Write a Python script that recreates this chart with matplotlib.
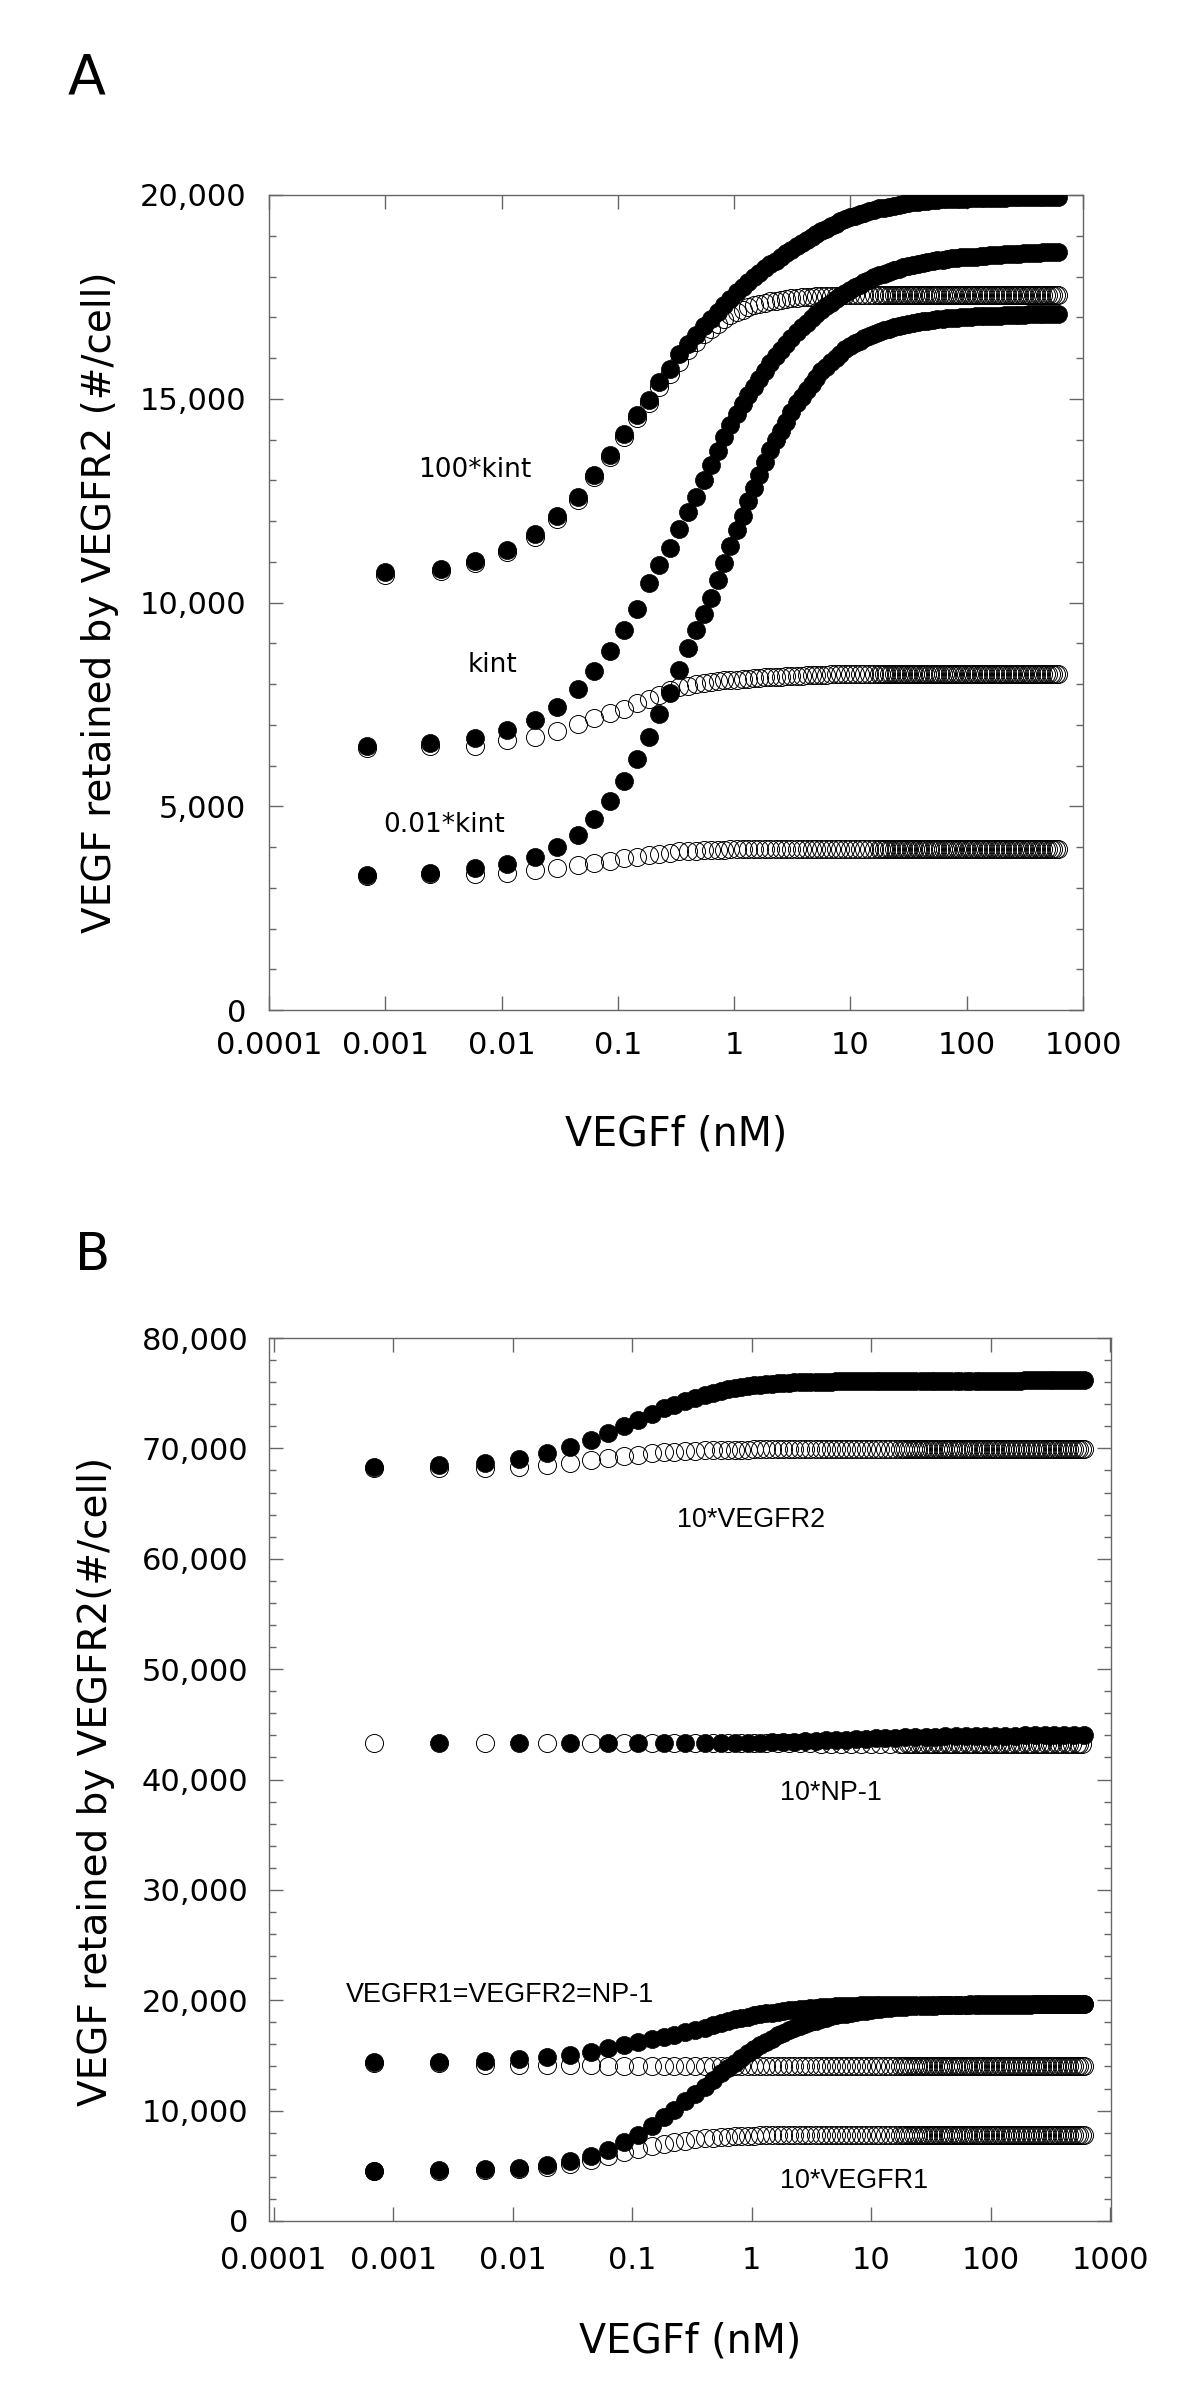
import matplotlib
matplotlib.use('Agg')
import matplotlib.pyplot as plt
from matplotlib.ticker import MultipleLocator, NullLocator, FuncFormatter

# free VEGF (nM) at which the model points sit (shared by most curves)
x_grid = [
    0.00069, 0.00244, 0.00587, 0.0112, 0.0193, 0.0301, 0.045, 0.0625, 0.085, 0.113,
    0.147, 0.186, 0.225, 0.279, 0.337, 0.404, 0.474, 0.55, 0.63, 0.72,
    0.82, 0.93, 1.05, 1.18, 1.32, 1.48, 1.65, 1.84, 2.05, 2.28,
    2.53, 2.8, 3.1, 3.45, 3.8, 4.2, 4.65, 5.1, 5.6, 6.2,
    6.8, 7.5, 8.2, 9.0, 9.9, 10.9, 12, 13.2, 14.5, 16,
    17.6, 19.4, 21.3, 23.5, 26, 28.6, 31.5, 34.5, 38, 42,
    46, 51, 56, 62, 68, 75, 82, 90, 99, 109,
    120, 132, 145, 160, 176, 194, 213, 235, 258, 284,
    312, 343, 378, 416, 457, 503, 553, 610,
]
x_kint100 = [0.00099, 0.0030] + x_grid[2:]

# extra points of the dense high-concentration end (open-circle plateaus)
x_tail = [
    18.5, 20.3, 22.4, 24.7, 27.3, 30, 33, 36.2, 40, 44,
    48.4, 53.4, 59, 65, 71.4, 78.4, 86, 94.4, 104, 114,
    126, 138, 152, 168, 185, 203, 224, 246, 271, 298,
    327, 360, 397, 436, 480, 528, 581,
]

x_ticks = [1e-4, 1e-3, 1e-2, 1e-1, 1, 10, 100, 1000]
x_tick_labels = ['0.0001', '0.001', '0.01', '0.1', '1', '10', '100', '1000']

# ---- panel A ----
kint100_filled = [
    10740, 10830, 11030, 11300, 11670, 12120, 12580, 13140, 13630, 14130,
    14590, 14980, 15400, 15740, 16100, 16350, 16570, 16780, 16960, 17140,
    17300, 17460, 17610, 17750, 17870, 17980, 18090, 18200, 18300, 18390,
    18480, 18570, 18650, 18740, 18820, 18890, 18970, 19040, 19110, 19170,
    19230, 19290, 19350, 19400, 19460, 19490, 19530, 19570, 19600, 19640,
    19670, 19690, 19710, 19740, 19760, 19780, 19800, 19820, 19830, 19850,
    19860, 19870, 19880, 19890, 19900, 19900, 19910, 19910, 19910, 19920,
    19920, 19920, 19920, 19920, 19930, 19930, 19930, 19940, 19940, 19940,
    19940, 19940, 19940, 19950, 19950, 19950, 19950, 19950,
]
kint100_open = [
    10680, 10780, 10970, 11240, 11610, 12050, 12510, 13070, 13560, 14050,
    14520, 14900, 15300, 15600, 15900, 16190, 16400, 16580, 16720, 16840,
    16950, 17050, 17130, 17190, 17240, 17290, 17330, 17360, 17390, 17410,
    17430, 17450, 17465, 17480, 17490, 17500, 17505, 17510, 17515, 17520,
    17525, 17530, 17530, 17535, 17535, 17540, 17540, 17540, 17540, 17540,
    17540, 17540, 17540, 17540, 17540, 17540, 17540, 17540, 17540, 17540,
    17540, 17540, 17540, 17540, 17540, 17540, 17540, 17540, 17540, 17540,
    17540, 17540, 17540, 17540, 17540, 17540, 17540, 17540, 17540, 17540,
    17540, 17540, 17540, 17540, 17540, 17540, 17540, 17540,
]
kint100_open_tail = [
    17540, 17540, 17540, 17540, 17540, 17540, 17540, 17540, 17540, 17540,
    17540, 17540, 17540, 17540, 17540, 17540, 17540, 17540, 17540, 17540,
    17540, 17540, 17540, 17540, 17540, 17540, 17540, 17540, 17540, 17540,
    17540, 17540, 17540, 17540, 17540, 17540, 17540,
]
kint_filled = [
    6470, 6540, 6670, 6860, 7120, 7440, 7880, 8320, 8820, 9320,
    9840, 10490, 10930, 11340, 11810, 12220, 12600, 13000, 13370, 13730,
    14070, 14360, 14630, 14880, 15080, 15290, 15490, 15690, 15880, 16040,
    16190, 16350, 16500, 16650, 16760, 16870, 16980, 17080, 17190, 17280,
    17360, 17450, 17520, 17600, 17680, 17740, 17800, 17860, 17920, 17980,
    18030, 18070, 18110, 18150, 18190, 18230, 18260, 18280, 18310, 18340,
    18360, 18380, 18400, 18410, 18430, 18450, 18460, 18470, 18480, 18490,
    18490, 18500, 18510, 18520, 18530, 18530, 18540, 18550, 18560, 18560,
    18570, 18570, 18580, 18580, 18590, 18590, 18600, 18600,
]
kint_open = [
    6440, 6480, 6490, 6630, 6710, 6850, 7010, 7160, 7280, 7390,
    7530, 7630, 7730, 7850, 7920, 7960, 8000, 8030, 8050, 8070,
    8090, 8100, 8110, 8120, 8130, 8140, 8150, 8160, 8170, 8175,
    8180, 8185, 8190, 8195, 8200, 8210, 8215, 8220, 8225, 8230,
    8235, 8240, 8240, 8245, 8245, 8250, 8250, 8250, 8250, 8250,
    8250, 8250, 8250, 8250, 8250, 8250, 8250, 8250, 8250, 8250,
    8250, 8250, 8250, 8250, 8250, 8250, 8250, 8250, 8250, 8250,
    8250, 8250, 8250, 8250, 8250, 8250, 8250, 8250, 8250, 8250,
    8250, 8250, 8250, 8250, 8250, 8250, 8250, 8250,
]
kint_open_tail = [
    8250, 8250, 8250, 8250, 8250, 8250, 8250, 8250, 8250, 8250,
    8250, 8250, 8250, 8250, 8250, 8250, 8250, 8250, 8250, 8250,
    8250, 8250, 8250, 8250, 8250, 8250, 8250, 8250, 8250, 8250,
    8250, 8250, 8250, 8250, 8250, 8250, 8250,
]
kint001_filled = [
    3310, 3370, 3480, 3580, 3750, 4010, 4300, 4690, 5140, 5620,
    6160, 6710, 7260, 7770, 8340, 8880, 9330, 9710, 10120, 10550,
    10980, 11380, 11770, 12130, 12480, 12820, 13140, 13450, 13740, 13980,
    14210, 14440, 14670, 14890, 15050, 15210, 15370, 15520, 15670, 15790,
    15900, 16000, 16100, 16210, 16300, 16360, 16420, 16480, 16540, 16600,
    16650, 16680, 16720, 16750, 16790, 16820, 16840, 16860, 16880, 16900,
    16920, 16930, 16950, 16960, 16970, 16980, 16990, 17000, 17000, 17010,
    17020, 17020, 17030, 17030, 17040, 17040, 17050, 17060, 17060, 17060,
    17060, 17070, 17070, 17070, 17070, 17080, 17080, 17080,
]
kint001_open = [
    3300, 3330, 3330, 3370, 3440, 3490, 3560, 3600, 3660, 3720,
    3760, 3800, 3830, 3860, 3890, 3900, 3910, 3920, 3925, 3930,
    3935, 3940, 3940, 3940, 3940, 3940, 3940, 3940, 3940, 3940,
    3940, 3940, 3940, 3940, 3940, 3940, 3940, 3940, 3940, 3940,
    3940, 3940, 3940, 3940, 3940, 3940, 3940, 3940, 3940, 3940,
    3940, 3945, 3945, 3945, 3945, 3945, 3945, 3945, 3945, 3945,
    3945, 3945, 3945, 3945, 3945, 3945, 3945, 3945, 3945, 3945,
    3945, 3945, 3945, 3945, 3945, 3945, 3945, 3945, 3945, 3945,
    3945, 3945, 3945, 3945, 3945, 3945, 3945, 3945,
]
kint001_open_tail = [
    3945, 3945, 3945, 3945, 3945, 3945, 3945, 3945, 3945, 3945,
    3945, 3945, 3945, 3945, 3945, 3945, 3945, 3945, 3945, 3945,
    3945, 3945, 3945, 3945, 3945, 3945, 3945, 3945, 3945, 3945,
    3945, 3945, 3945, 3945, 3945, 3945, 3945,
]

# ---- panel B ----
vr2_filled = [
    68290, 68450, 68660, 69020, 69540, 70110, 70730, 71410, 72030, 72600,
    73120, 73640, 73940, 74280, 74570, 74810, 75020, 75210, 75350, 75460,
    75560, 75650, 75730, 75780, 75820, 75870, 75910, 75940, 75960, 75980,
    76000, 76030, 76030, 76040, 76040, 76050, 76050, 76060, 76060, 76070,
    76070, 76080, 76080, 76080, 76090, 76090, 76090, 76100, 76100, 76100,
    76110, 76110, 76110, 76120, 76120, 76120, 76130, 76130, 76130, 76130,
    76140, 76140, 76140, 76140, 76140, 76140, 76140, 76140, 76140, 76140,
    76140, 76140, 76140, 76140, 76140, 76150, 76150, 76150, 76150, 76150,
    76150, 76150, 76150, 76150, 76150, 76150, 76150, 76150,
]
vr2_open = [
    68260, 68240, 68220, 68290, 68500, 68710, 68920, 69120, 69280, 69430,
    69540, 69640, 69700, 69750, 69800, 69820, 69840, 69850, 69860, 69870,
    69880, 69890, 69900, 69900, 69900, 69900, 69900, 69900, 69900, 69900,
    69900, 69900, 69900, 69900, 69900, 69900, 69900, 69900, 69900, 69900,
    69900, 69900, 69900, 69900, 69900, 69900, 69900, 69900, 69900, 69900,
    69900, 69900, 69900, 69900, 69900, 69900, 69900, 69900, 69900, 69900,
    69900, 69900, 69900, 69900, 69900, 69900, 69900, 69900, 69900, 69900,
    69900, 69900, 69900, 69900, 69900, 69900, 69900, 69900, 69900, 69900,
    69900, 69900, 69900, 69900, 69900, 69900, 69900, 69900,
]
vr2_open_tail = [
    69900, 69900, 69900, 69900, 69900, 69900, 69900, 69900, 69900, 69900,
    69900, 69900, 69900, 69900, 69900, 69900, 69900, 69900, 69900, 69900,
    69900, 69900, 69900, 69900, 69900, 69900, 69900, 69900, 69900, 69900,
    69900, 69900, 69900, 69900, 69900, 69900, 69900,
]
# NP-1 curves sit on alternating grid points (open on even, filled on odd)
np1_open = [
    43300, 43300, 43300, 43300, 43300, 43300, 43300, 43300, 43300, 43300,
    43300, 43290, 43290, 43280, 43280, 43270, 43270, 43260, 43260, 43250,
    43250, 43240, 43240, 43230, 43230, 43230, 43220, 43220, 43220, 43210,
    43210, 43210, 43210, 43200, 43200, 43200, 43200, 43200, 43200, 43200,
    43200, 43200, 43200, 43200,
]
np1_open_tail = [
    43250, 43240, 43240, 43230, 43230, 43230, 43220, 43220, 43220, 43210,
    43210, 43210, 43210, 43200, 43200, 43200, 43200, 43200, 43200, 43200,
    43200, 43200, 43200, 43200, 43200, 43200, 43200, 43200, 43200, 43200,
    43200, 43200, 43200, 43200, 43200, 43200, 43200,
]
np1_filled = [
    43300, 43300, 43300, 43300, 43300, 43300, 43300, 43300, 43300, 43310,
    43330, 43350, 43380, 43410, 43440, 43470, 43510, 43550, 43590, 43620,
    43660, 43690, 43720, 43750, 43780, 43810, 43840, 43860, 43880, 43900,
    43920, 43940, 43950, 43960, 43970, 43980, 43985, 43990, 43995, 44000,
    44000, 44000, 44000, 44000,
]
eq_filled = [
    14380, 14380, 14530, 14690, 14850, 15050, 15310, 15700, 15980, 16220,
    16460, 16680, 16880, 17100, 17330, 17530, 17740, 17940, 18110, 18260,
    18390, 18510, 18620, 18720, 18800, 18880, 18950, 19020, 19080, 19130,
    19180, 19230, 19270, 19310, 19350, 19390, 19430, 19460, 19480, 19500,
    19510, 19520, 19530, 19540, 19545, 19550, 19555, 19560, 19560, 19565,
    19570, 19570, 19575, 19580, 19580, 19585, 19590, 19590, 19595, 19600,
    19600, 19605, 19610, 19610, 19615, 19620, 19620, 19625, 19625, 19630,
    19630, 19630, 19635, 19635, 19635, 19640, 19640, 19640, 19640, 19640,
    19640, 19640, 19640, 19640, 19640, 19640, 19640, 19640,
]
eq_open = [
    14330, 14300, 14170, 14140, 14120, 14100, 14090, 14080, 14070, 14070,
    14070, 14070, 14070, 14070, 14070, 14070, 14070, 14070, 14070, 14070,
    14070, 14070, 14070, 14070, 14070, 14070, 14070, 14070, 14070, 14070,
    14070, 14070, 14070, 14070, 14070, 14070, 14070, 14070, 14070, 14070,
    14070, 14070, 14070, 14070, 14070, 14070, 14070, 14070, 14070, 14070,
    14070, 14070, 14070, 14070, 14070, 14070, 14070, 14070, 14070, 14070,
    14070, 14070, 14070, 14070, 14070, 14070, 14070, 14070, 14070, 14070,
    14070, 14070, 14070, 14070, 14070, 14070, 14070, 14070, 14070, 14070,
    14070, 14070, 14070, 14070, 14070, 14070, 14070, 14070,
]
eq_open_tail = [
    14070, 14070, 14070, 14070, 14070, 14070, 14070, 14070, 14070, 14070,
    14070, 14070, 14070, 14070, 14070, 14070, 14070, 14070, 14070, 14070,
    14070, 14070, 14070, 14070, 14070, 14070, 14070, 14070, 14070, 14070,
    14070, 14070, 14070, 14070, 14070, 14070, 14070,
]
vr1_filled = [
    4550, 4590, 4690, 4830, 5080, 5440, 5850, 6470, 7150, 7800,
    8600, 9430, 10100, 10830, 11490, 12150, 12800, 13380, 13880, 14320,
    14770, 15220, 15610, 15920, 16220, 16530, 16820, 17050, 17260, 17470,
    17680, 17880, 18020, 18160, 18280, 18410, 18540, 18630, 18710, 18790,
    18870, 18940, 19010, 19060, 19120, 19170, 19230, 19290, 19330, 19360,
    19390, 19420, 19450, 19480, 19490, 19500, 19510, 19515, 19525, 19535,
    19545, 19555, 19560, 19570, 19580, 19583, 19585, 19588, 19590, 19593,
    19596, 19599, 19602, 19605, 19608, 19611, 19614, 19617, 19620, 19622,
    19625, 19627, 19630, 19632, 19634, 19636, 19638, 19640,
]
vr1_open = [
    4530, 4560, 4600, 4700, 4880, 5150, 5500, 5900, 6250, 6550,
    6800, 7000, 7150, 7290, 7400, 7480, 7550, 7600, 7640, 7670,
    7700, 7720, 7735, 7750, 7760, 7770, 7775, 7780, 7780, 7785,
    7790, 7790, 7795, 7795, 7800, 7800, 7800, 7800, 7800, 7800,
    7800, 7800, 7800, 7800, 7800, 7800, 7800, 7800, 7800, 7800,
    7800, 7800, 7800, 7800, 7800, 7800, 7800, 7800, 7800, 7800,
    7800, 7800, 7800, 7800, 7800, 7800, 7800, 7800, 7800, 7800,
    7800, 7800, 7800, 7800, 7800, 7800, 7800, 7800, 7800, 7800,
    7800, 7800, 7800, 7800, 7800, 7800, 7800, 7800,
]
vr1_open_tail = [
    7800, 7800, 7800, 7800, 7800, 7800, 7800, 7800, 7800, 7800,
    7800, 7800, 7800, 7800, 7800, 7800, 7800, 7800, 7800, 7800,
    7800, 7800, 7800, 7800, 7800, 7800, 7800, 7800, 7800, 7800,
    7800, 7800, 7800, 7800, 7800, 7800, 7800,
]

plt.rcParams['font.family'] = ['DejaVu Sans']

W, H = 1200, 2393
fig = plt.figure(figsize=(W / 100, H / 100), dpi=100)


def px_axes(left, top, right, bottom):
    return fig.add_axes([left / W, 1 - bottom / H, (right - left) / W, (bottom - top) / H])


def dots(ax, x, y, filled):
    if filled:
        ax.plot(x, y, 'o', ls='none', ms=13, mfc='black', mec='black', mew=0.5, zorder=3)
    else:
        ax.plot(x, y, 'o', ls='none', ms=13, mfc='none', mec='black', mew=0.7, zorder=2)


def style(ax, xlim, ymax, ymajor, yminor, ypad, xpad):
    ax.set_xscale('log')
    ax.set_xticks(x_ticks, x_tick_labels)
    ax.xaxis.set_minor_locator(NullLocator())
    ax.set_xlim(*xlim)
    ax.set_ylim(0, ymax)
    ax.yaxis.set_major_locator(MultipleLocator(ymajor))
    ax.yaxis.set_minor_locator(MultipleLocator(yminor))
    ax.yaxis.set_major_formatter(FuncFormatter(lambda v, p: f'{int(round(v)):,}'))
    ax.tick_params(which='both', direction='in', top=True, right=True,
                   color='#666666', width=1.0)
    ax.tick_params(which='major', length=10, labelsize=22)
    ax.tick_params(which='minor', length=5)
    ax.tick_params(axis='y', which='major', pad=ypad)
    ax.tick_params(axis='x', which='major', pad=xpad)
    for s in ax.spines.values():
        s.set_color('#666666')
        s.set_linewidth(1.0)


# ---------------- A ----------------
axA = px_axes(269, 195, 1083, 1010)
dots(axA, x_kint100 + x_tail, kint100_open + kint100_open_tail, False)
dots(axA, x_grid + x_tail, kint_open + kint_open_tail, False)
dots(axA, x_grid + x_tail, kint001_open + kint001_open_tail, False)
dots(axA, x_kint100, kint100_filled, True)
dots(axA, x_grid, kint_filled, True)
dots(axA, x_grid, kint001_filled, True)
style(axA, (1e-4, 1e3), 20000, 5000, 1000, 16.5, 15)

axA.text(0.00587, 13070, '100*kint', ha='center', va='baseline', fontsize=19)
axA.text(0.0083, 8300, 'kint', ha='center', va='baseline', fontsize=19)
axA.text(0.00321, 4360, '0.01*kint', ha='center', va='baseline', fontsize=19)

# ---------------- B ----------------
axB = px_axes(268.5, 1338, 1111, 2221)
dots(axB, x_grid + x_tail, vr2_open + vr2_open_tail, False)
dots(axB, x_grid[0::2] + x_tail, np1_open + np1_open_tail, False)
dots(axB, x_grid + x_tail, eq_open + eq_open_tail, False)
dots(axB, x_grid + x_tail, vr1_open + vr1_open_tail, False)
dots(axB, x_grid, vr2_filled, True)
dots(axB, x_grid[1::2], np1_filled, True)
dots(axB, x_grid, eq_filled, True)
dots(axB, x_grid, vr1_filled, True)
style(axB, (9.05e-5, 1.02e3), 80000, 10000, 2000, 14.4, 18)

lab = dict(ha='center', va='baseline', fontsize=19.4, family=['Liberation Sans'])
axB.text(1.0, 62900, '10*VEGFR2', **lab)
axB.text(4.66, 38150, '10*NP-1', **lab)
axB.text(0.0078, 19880, 'VEGFR1=VEGFR2=NP-1', **lab)
axB.text(7.24, 2970, '10*VEGFR1', **lab)

# ---------------- figure texts ----------------
fig.text(68 / W, 1 - 93 / H, 'A', fontsize=40, ha='left', va='baseline')
fig.text(75 / W, 1 - 1270 / H, 'B', fontsize=37, ha='left', va='baseline')

fig.text(676 / W, 1 - 1146 / H, 'VEGFf (nM)', fontsize=28.5, ha='center', va='baseline')
fig.text(690 / W, 1 - 2352 / H, 'VEGFf (nM)', fontsize=28.5, ha='center', va='baseline')
fig.text(100 / W, 1 - 602 / H, 'VEGF retained by VEGFR2 (#/cell)', fontsize=28,
         rotation=90, ha='center', va='center')
fig.text(96 / W, 1 - 1781 / H, 'VEGF retained by VEGFR2(#/cell)', fontsize=28,
         rotation=90, ha='center', va='center')

fig.savefig('out.png', dpi=100)
